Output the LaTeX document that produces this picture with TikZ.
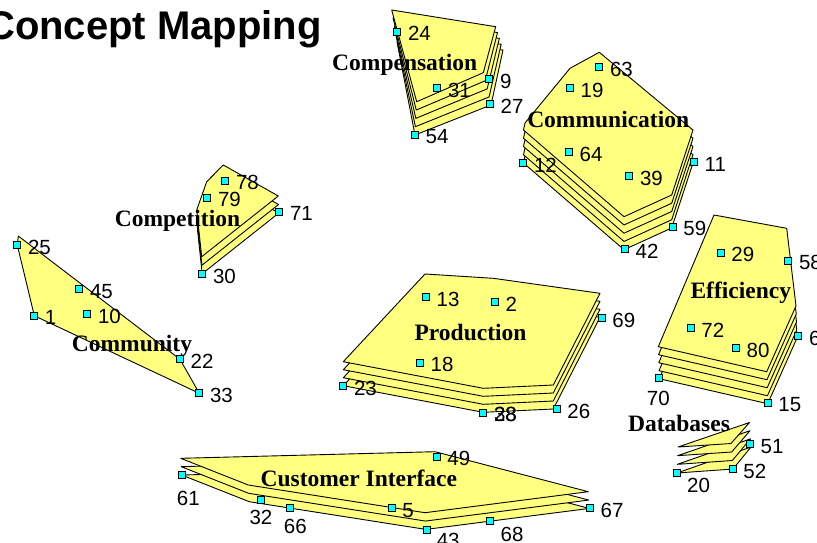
\documentclass[tikz,border=0pt]{standalone}
\usepackage{fontspec}
\setmainfont{Liberation Serif}
\newfontfamily\arialf{Liberation Sans}
\usetikzlibrary{calc}
\definecolor{layerfill}{RGB}{255,255,128}
\definecolor{markfill}{RGB}{0,255,255}
\tikzset{
 layer/.style={fill=layerfill, draw=black, line width=0.9pt, line join=round},
 mk/.style={draw=black, fill=markfill, line width=0.8pt, minimum size=7pt, inner sep=0pt, rectangle},
 num/.style={font=\arialf\fontsize{20.5}{24}\selectfont, inner sep=0pt, text=black},
 clab/.style={font=\bfseries\fontsize{23.5}{28}\selectfont, inner sep=0pt, anchor=base},
 ttl/.style={font=\arialf\bfseries\fontsize{40}{48}\selectfont, inner sep=0pt, anchor=base west},
}
\newcommand\mkpt[4]{\node[mk] (p#1) at (#2,#3) {}; \node[num,anchor=west] (l#1) at ([shift={(10.5,2)}]p#1.center) {#4};}
\newcommand\mkptat[6]{\node[mk] (p#1) at (#2,#3) {}; \node[num] (l#1) at ([shift={(#5,#6)}]p#1.center) {#4};}
\newcommand\stackdraw[3]{\foreach \k in {0,...,#1}{\pgfmathsetmacro\ft{\k/#1}
 \filldraw[layer] ($(#2b1)!\ft!(#2t1)$) \foreach \v in {2,...,#3}{ -- ($(#2b\v)!\ft!(#2t\v)$)} -- cycle;}}
\begin{document}
\begin{tikzpicture}[x=1pt,y=-1pt]
\useasboundingbox (0,0) rectangle (817,542);
% title
\node[ttl] (title) at (-14,39.5) {Concept Mapping};

% ---------- Compensation (A) ----------
\coordinate (At1) at (391.7,10);   \coordinate (Ab1) at (397,42);
\coordinate (At2) at (495.7,26.7); \coordinate (Ab2) at (503,50);
\coordinate (At3) at (483.3,72.7); \coordinate (Ab3) at (491,105);
\coordinate (At4) at (416.7,101.7);\coordinate (Ab4) at (415,135);
\stackdraw{4}{A}{4}

% ---------- Communication (B) ----------
\coordinate (Bt1) at (599.3,52.3); \coordinate (Bb1) at (599.3,85.3);
\coordinate (Bt2) at (570,68.3);   \coordinate (Bb2) at (570,101.3);
\coordinate (Bt3) at (525,123);    \coordinate (Bb3) at (525,156);
\coordinate (Bt4) at (523.5,130);  \coordinate (Bb4) at (523.5,163);
\coordinate (Bt5) at (624,216.7);  \coordinate (Bb5) at (624,249.7);
\coordinate (Bt6) at (671.7,195);  \coordinate (Bb6) at (671.7,228);
\coordinate (Bt7) at (693,130);    \coordinate (Bb7) at (693,163);
\stackdraw{4}{B}{7}

% ---------- Competition (C) ----------
\coordinate (Ct1) at (223.3,165);   \coordinate (Cb1) at (223.8,182);
\coordinate (Ct2) at (278.3,196);   \coordinate (Cb2) at (278.8,213);
\coordinate (Ct3) at (201.7,256.7); \coordinate (Cb3) at (202.2,273.7);
\coordinate (Ct4) at (196.7,210);   \coordinate (Cb4) at (197.2,227);
\coordinate (Ct5) at (206.7,181.7); \coordinate (Cb5) at (207.2,198.7);
\stackdraw{2}{C}{5}

% ---------- Community ----------
\filldraw[layer] (18.3,236) -- (180,359.3) -- (199.3,393.3) -- (34.3,315.7) -- (17.3,245) -- cycle;

% ---------- Production (D) ----------
\coordinate (Dt1) at (425,274);     \coordinate (Db1) at (425,298);
\coordinate (Dt2) at (493.3,278.3); \coordinate (Db2) at (493.3,302.3);
\coordinate (Dt3) at (600,293.3);   \coordinate (Db3) at (600,317.3);
\coordinate (Dt4) at (553.3,385);   \coordinate (Db4) at (553.3,409);
\coordinate (Dt5) at (483.3,388.3); \coordinate (Db5) at (483.3,412.3);
\coordinate (Dt6) at (343.3,361.7); \coordinate (Db6) at (343.3,385.7);
\stackdraw{3}{D}{6}

% ---------- Efficiency (E) ----------
\coordinate (Et1) at (714,215);     \coordinate (Eb1) at (715,247);
\coordinate (Et2) at (786.7,228.3); \coordinate (Eb2) at (787.7,260.3);
\coordinate (Et3) at (796,306);     \coordinate (Eb3) at (797,338);
\coordinate (Et4) at (766.7,371.7); \coordinate (Eb4) at (767.7,403.7);
\coordinate (Et5) at (658.3,346.7); \coordinate (Eb5) at (659.3,378.7);
\stackdraw{4}{E}{5}

% ---------- Databases (F) ----------
\coordinate (Ft1) at (678,447);     \coordinate (Fb1) at (677,473);
\coordinate (Ft2) at (731,443.5);   \coordinate (Fb2) at (733,469);
\coordinate (Ft3) at (749.5,422.5); \coordinate (Fb3) at (751,447);
\stackdraw{3}{F}{3}

% ---------- Customer Interface (G) ----------
\coordinate (Gt1) at (180.7,458.3); \coordinate (Gb1) at (181.7,475);
\coordinate (Gt2) at (435,451.7);   \coordinate (Gb2) at (436,468.4);
\coordinate (Gt3) at (588.3,491.7); \coordinate (Gb3) at (589.3,508.4);
\coordinate (Gt4) at (425,512.7);   \coordinate (Gb4) at (426,529.4);
\coordinate (Gt5) at (248.3,485);   \coordinate (Gb5) at (249.3,501.7);
\stackdraw{2}{G}{5}

% ---------- points ----------
% Compensation
\mkpt{24}{397.3}{31.7}{24}
\mkpt{9}{489.3}{79.3}{9}
\mkpt{31}{437.3}{88.3}{31}
\mkpt{27}{490}{104.3}{27}
\mkpt{54}{415}{135}{54}
% Communication
\mkpt{63}{599.3}{67.3}{63}
\mkpt{19}{570}{88.3}{19}
\mkpt{64}{569}{152.3}{64}
\mkpt{12}{523.3}{163.3}{12}
\mkpt{39}{629.3}{176}{39}
\mkpt{11}{694}{162.3}{11}
\mkpt{59}{672.7}{226.7}{59}
\mkpt{42}{625}{249}{42}
% Competition
\mkpt{78}{225.3}{180.7}{78}
\mkpt{79}{207.3}{197.7}{79}
\mkpt{71}{279.3}{211.7}{71}
\mkpt{30}{202.3}{274}{30}
% Community
\mkpt{25}{17.3}{245}{25}
\mkpt{45}{79.3}{289.3}{45}
\mkpt{10}{87.3}{314.3}{10}
\mkpt{1}{34.3}{315.7}{1}
\mkpt{22}{180}{359.3}{22}
\mkpt{33}{199.3}{393.3}{33}
% Production
\mkpt{13}{426}{297.3}{13}
\mkpt{2}{495}{302.3}{2}
\mkpt{69}{601.7}{318.3}{69}
\mkpt{18}{420}{362.7}{18}
\mkpt{23}{343.3}{386}{23}
\mkpt{28}{483.3}{412.7}{28}
\mkpt{38}{483.3}{412.7}{38}
\mkpt{26}{556.7}{409.3}{26}
% Efficiency
\mkpt{29}{720.7}{252.7}{29}
\mkpt{58}{788.3}{260.7}{58}
\mkpt{72}{690.7}{328.3}{72}
\mkpt{80}{736}{348.3}{80}
\mkpt{60}{798.3}{336}{60}
\mkptat{70}{659.3}{378.3}{70}{-1}{20}
\mkpt{15}{767.7}{402.7}{15}
% Databases
\mkpt{51}{750}{444.3}{51}
\mkpt{52}{732.7}{469.3}{52}
\mkptat{20}{676.5}{472.7}{20}{22}{12.5}
% Customer Interface
\mkpt{49}{436.7}{456.7}{49}
\mkptat{61}{181.7}{475}{61}{6.6}{23}
\mkptat{32}{261}{500}{32}{0}{17}
\mkptat{66}{290}{508.3}{66}{5.3}{17.7}
\mkpt{5}{391.7}{508.3}{5}
\mkptat{43}{426.7}{530}{43}{21.5}{10.5}
\mkptat{68}{490}{520.7}{68}{22}{14}
\mkpt{67}{590}{508.3}{67}

% ---------- cluster labels ----------
\node[clab] (lcomp) at (404.7,70.7) {Compensation};
\node[clab] (lcomm) at (608.2,127.7) {Communication};
\node[clab] (lcompet) at (177.5,226.7) {Competition};
\node[clab] (lcommun) at (132,351.7) {Community};
\node[clab] (lprod) at (470.5,340.7) {Production};
\node[clab] (leff) at (740.8,298.3) {Efficiency};
\node[clab] (ldb) at (679,431.7) {Databases};
\node[clab] (lci) at (358.8,486.7) {Customer Interface};
\end{tikzpicture}
\end{document}
